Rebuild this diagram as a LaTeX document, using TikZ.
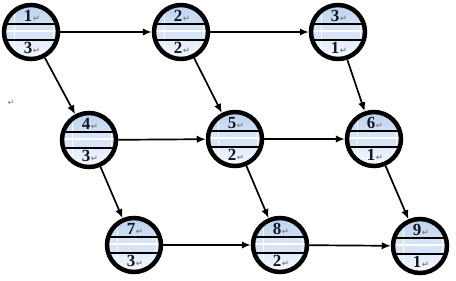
\documentclass[tikz,border=0pt]{standalone}
\usepackage{fontspec}
\setmainfont{Liberation Serif}
\newfontfamily\symfont{DejaVu Sans}
\usetikzlibrary{arrows.meta}
\definecolor{ctop}{RGB}{184,208,238}
\definecolor{cbot}{RGB}{250,252,255}
\definecolor{cband}{RGB}{214,228,246}
\definecolor{cnum}{RGB}{20,20,35}
\newcommand\retmark{{\symfont\fontsize{8.5}{8.5}\selectfont\color{gray}\kern0.5pt↵}}
\tikzset{
  ring/.style={circle, draw, line width=4.5pt, minimum size=54pt, inner sep=0pt},
  num/.style={inner sep=0pt, text height=11pt, text depth=0pt, font=\fontsize{17}{17}\selectfont\bfseries, text=cnum},
  arr/.style={-{Latex[length=9pt,width=7.5pt]}, line width=1.7pt},
}
\newcommand\cnode[5]{%
  \begin{scope}
    \clip (#2,#3) circle (27);
    \shade[top color=ctop, bottom color=cbot] (#2-30,#3-30) rectangle (#2+30,#3+30);
    \fill[cband] (#2-30,#3-8) rectangle (#2+30,#3+8);
    \draw[white, line width=1.2pt] (#2-30,#3-1) -- (#2+30,#3-1);
    \draw[white, line width=0.8pt] (#2-17,#3-30) -- (#2-17,#3+30);
    \draw[white, line width=0.8pt] (#2+22,#3-30) -- (#2+22,#3+30);
    \draw[line width=2.8pt] (#2-30,#3-8) -- (#2+30,#3-8);
    \draw[line width=2.8pt] (#2-30,#3+8) -- (#2+30,#3+8);
  \end{scope}
  \node[ring] (#1) at (#2,#3) {};
  \node[num] (#1t) at (#2+1,#3-16) {#4\retmark};
  \node[num] (#1b) at (#2+1,#3+16) {#5\retmark};
}
\begin{document}
\begin{tikzpicture}[x=1pt,y=-1pt]
\useasboundingbox (0,0) rectangle (456,281);
\cnode{n1}{31}{32}{1}{3}
\cnode{n2}{181}{32}{2}{2}
\cnode{n3}{338}{32}{3}{1}
\cnode{n4}{89}{140}{4}{3}
\cnode{n5}{235}{139}{5}{2}
\cnode{n6}{374}{139}{6}{1}
\cnode{n7}{134}{245}{7}{3}
\cnode{n8}{280}{245}{8}{2}
\cnode{n9}{420}{246}{9}{1}
\node[inner sep=0pt] (ret) at (11,103) {\retmark};
\draw[arr] (n1) -- (n2);
\draw[arr] (n2) -- (n3);
\draw[arr] (n1) -- (n4);
\draw[arr] (n2) -- (n5);
\draw[arr] (n3) -- (n6);
\draw[arr] (n4) -- (n5);
\draw[arr] (n5) -- (n6);
\draw[arr] (n4) -- (n7);
\draw[arr] (n5) -- (n8);
\draw[arr] (n6) -- (n9);
\draw[arr] (n7) -- (n8);
\draw[arr] (n8) -- (n9);
\end{tikzpicture}
\end{document}
